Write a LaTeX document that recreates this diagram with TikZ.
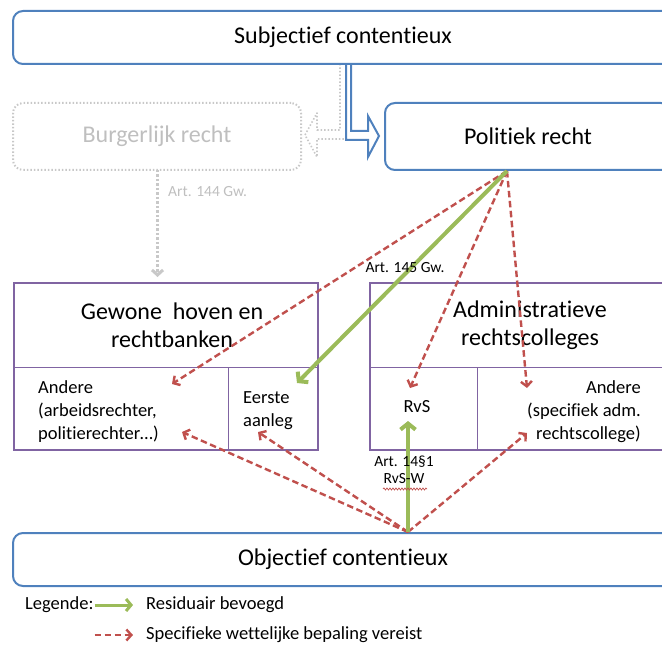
\documentclass[tikz,border=0pt]{standalone}
\usepackage{fontspec}
\setmainfont{Carlito}[Ligatures=NoCommon]
\usetikzlibrary{arrows.meta,decorations.pathmorphing,calc}
\definecolor{bluC}{HTML}{4F81BD}
\definecolor{purC}{HTML}{8064A2}
\definecolor{grnC}{HTML}{9BBB59}
\definecolor{redC}{HTML}{C0504D}
\definecolor{gryC}{HTML}{C8C8C8}
\definecolor{gtxC}{HTML}{BFBFBF}
\newcommand\fBig{\fontsize{24}{28}\selectfont}
\newcommand\fMid{\fontsize{18.5}{23}\selectfont}
\newcommand\fSml{\fontsize{15.5}{17.5}\selectfont}
\begin{document}
\begin{tikzpicture}[x=1pt,y=-1pt,
  bluebox/.style={draw=bluC,line width=2pt,rounded corners=10pt,fill=white,inner sep=0pt,font=\fBig},
  graybox/.style={draw=gryC,line width=2pt,dash pattern=on 1.5pt off 2pt,rounded corners=10pt,inner sep=0pt,font=\fBig,text=gtxC},
  cellbox/.style={draw=purC,line width=1pt,inner sep=0pt},
  outerbox/.style={draw=purC,line width=2.5pt,inner sep=0pt},
  txt/.style={inner sep=0pt,align=center},
  redarr/.style={draw=redC,line width=2.4pt,dash pattern=on 6.5pt off 3.5pt,-{Straight Barb[length=5pt,width=11pt]}},
  grnarr/.style={draw=grnC,line width=4pt,-{Straight Barb[length=6pt,width=15pt]}},
  grayarr/.style={draw=gryC,line width=3pt,dash pattern=on 2.5pt off 2pt,-{Straight Barb[length=5pt,width=11pt]}},
  lbl/.style={inner sep=0pt,font=\fSml,align=center}
]
\useasboundingbox (0,0) rectangle (662,650);
\clip (0,0) rectangle (662,650);

% gray dotted elbow arrow (behind)
\draw[gryC,line width=1.6pt,dash pattern=on 1.5pt off 2pt,line join=round]
  (340,64) -- (340,130) -- (317,130) -- (317,113) -- (305,135) -- (317,157) -- (317,139) -- (346,139) -- (346,64);
% blue outlined elbow arrow
\draw[bluC,line width=2pt,fill=white,line join=miter]
  (346,62) -- (346,140) -- (368,140) -- (368,157) -- (379,136) -- (368,116) -- (368,131) -- (351,131) -- (351,62);

% top boxes
\node[bluebox,minimum width=660pt,minimum height=53pt] (subj) at (343,37.5) {Subjectief contentieux};
\node[graybox,minimum width=288pt,minimum height=67pt] (burg) at (157,136.5) {Burgerlijk recht};
\node[bluebox,minimum width=286pt,minimum height=67pt] (pol) at (528,136.5) {Politiek recht};

% Gewone hoven en rechtbanken
\node[cellbox,minimum width=304pt,minimum height=84pt] (gewT) at (166,325) {};
\node[cellbox,minimum width=214pt,minimum height=83pt] (gewA) at (121,408.5) {};
\node[cellbox,minimum width=90pt,minimum height=83pt] (gewE) at (273,408.5) {};
\node[outerbox,minimum width=304pt,minimum height=167pt] (gew) at (166,366.5) {};
\node[txt,font=\fBig] (gewTt) at (172,325) {Gewone\ \ hoven en\\rechtbanken};
\node[txt,font=\fMid,align=left,anchor=west] (gewAt) at (38,412) {Andere\\(arbeidsrechter,\\politierechter…)};
\node[txt,font=\fMid,align=left,anchor=west] (gewEt) at (243,410.5) {Eerste\\aanleg};

% Administratieve rechtscolleges
\node[cellbox,minimum width=316pt,minimum height=84pt] (admT) at (528,325) {};
\node[cellbox,minimum width=107pt,minimum height=83pt] (admR) at (423.5,408.5) {};
\node[cellbox,minimum width=209pt,minimum height=83pt] (admA) at (581.5,408.5) {};
\node[outerbox,minimum width=316pt,minimum height=167pt] (adm) at (528,366.5) {};
\node[txt,font=\fBig] (admTt) at (530,325) {Administratieve\\rechtscolleges};
\node[txt,font=\fMid] (admRt) at (417,407) {RvS};
\node[txt,font=\fMid,align=right,anchor=east] (admAt) at (641,412) {Andere\\(specifiek adm.\\rechtscollege)};

% bottom box
\node[bluebox,minimum width=660pt,minimum height=53pt] (obj) at (343,559.5) {Objectief contentieux};

% coordinates for connector ends
\coordinate (pS) at (507,171);
\coordinate (oN) at (408,532);
\coordinate (bS) at (157.5,170);
\coordinate (bT) at (157.5,277);
\coordinate (tGA) at (172,384);
\coordinate (tGE) at (297,383);
\coordinate (tRv) at (410,388);
\coordinate (tAA) at (527,388);
\coordinate (uRv) at (408,421);
\coordinate (uGA) at (182,432);
\coordinate (uGE) at (258,432);
\coordinate (uAA) at (527,433);

% Art. 144 arrow
\draw[grayarr] (bS) -- (bT);
\node[lbl,anchor=west,text=gtxC] (l144) at (168,191.5) {Art. 144 Gw.};

% from Politiek recht
\draw[redarr] (pS) -- (tGA);
\draw[redarr] (pS) -- (tRv);
\draw[redarr] (pS) -- (tAA);
\draw[grnarr] (pS) -- (tGE);
\node[lbl] (l145) at (405,268) {Art. 145 Gw.};

% from Objectief contentieux
\draw[redarr] (oN) -- (uGA);
\draw[redarr] (oN) -- (uGE);
\draw[redarr] (oN) -- (uAA);
\draw[grnarr] (oN) -- (uRv);
\node[lbl] (l14) at (404,470) {Art. 14§1\\RvS-W};
\draw[redC,line width=0.7pt,decorate,decoration={snake,amplitude=1pt,segment length=3pt}] (383,489) -- (427,489);

% legend
\node[inner sep=0pt,font=\fMid,anchor=west] (leg) at (25,605) {Legende:};
\node[inner sep=0pt,font=\fMid,anchor=west] (res) at (146,605) {Residuair bevoegd};
\node[inner sep=0pt,font=\fMid,anchor=west] (spec) at (146,635) {Specifieke wettelijke bepaling vereist};
\draw[grnC,line width=3pt,-{Straight Barb[length=5pt,width=12pt]}] ([xshift=1pt]leg.east |- res.west) -- ([xshift=-13pt]res.west);
\draw[redarr] ([xshift=1pt]leg.east |- spec.west) -- ([xshift=-13pt]spec.west);
\end{tikzpicture}
\end{document}
